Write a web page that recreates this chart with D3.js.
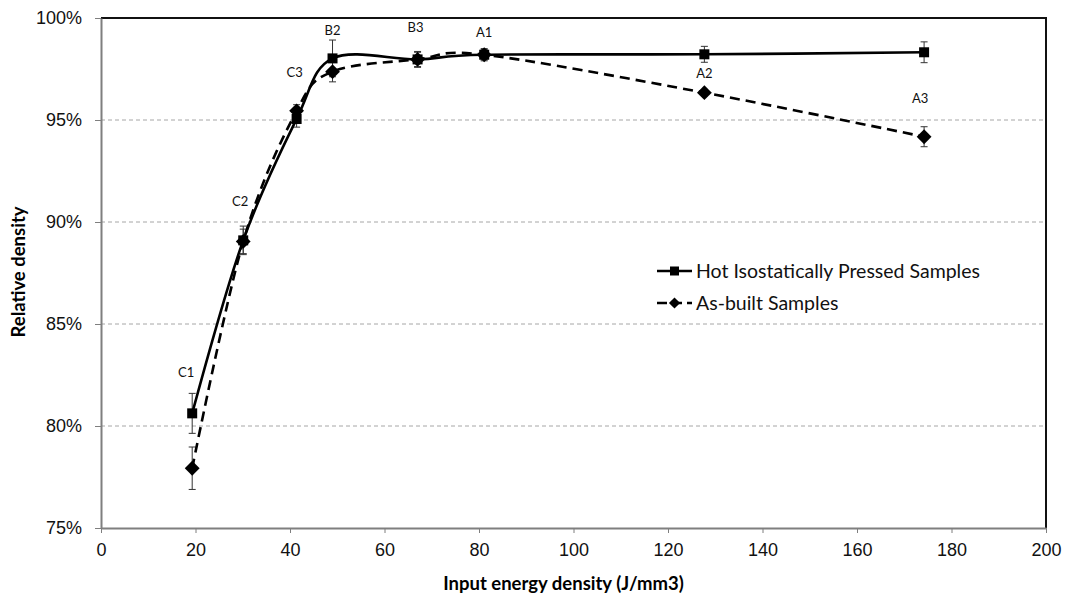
<!DOCTYPE html>
<html>
<head>
<meta charset="utf-8">
<script src="https://cdn.jsdelivr.net/npm/d3@7"></script>
<style>
  body { margin: 0; background: #fff; }
  svg { font-family: Lato, "Open Sans", sans-serif; }
</style>
</head>
<body>
<svg id="chart" width="1066" height="598"></svg>
<script>
// values
const sampleNames = ["C1", "C2", "C3", "B2", "B3", "A1", "A2", "A3"];
const energy = [19.3, 30.1, 41.4, 49.0, 67.0, 81.1, 127.7, 174.2];
const hipDensity = [80.62, 89.1, 95.05, 98.02, 97.97, 98.2, 98.22, 98.32];
const hipError = [0.98, 0.7, 0.4, 0.9, 0.39, 0.3, 0.39, 0.51];
const builtDensity = [77.93, 89.05, 95.45, 97.37, 97.97, 98.2, 96.34, 94.18];
const builtError = [1.04, 0.6, 0.3, 0.5, 0.35, 0.25, 0.15, 0.49];
const xTicks = [0, 20, 40, 60, 80, 100, 120, 140, 160, 180, 200];
const yTicks = [75, 80, 85, 90, 95, 100];
const seriesNames = ["Hot Isostatically Pressed Samples", "As-built Samples"];

var margin = {top: 18, right: 20, bottom: 70, left: 101},
    width = 1066 - margin.left - margin.right,
    height = 598 - margin.top - margin.bottom;

const svg = d3.select("#chart");
const g = svg.append("g").attr("transform", "translate(" + margin.left + "," + margin.top + ")");

const x = d3.scaleLinear().domain([0, 200]).range([0, width]);
const y = d3.scaleLinear().domain([75, 100]).range([height, 0]);

// gridlines
g.selectAll(".grid")
    .data(yTicks.filter(function(d) { return d > 75 && d < 100; }))
    .enter().append("line")
    .attr("x1", 0).attr("x2", width)
    .attr("y1", function(d) { return y(d); })
    .attr("y2", function(d) { return y(d); })
    .attr("stroke", "#a6a6a6")
    .attr("stroke-width", 1)
    .attr("stroke-dasharray", "4,3");

// plot border top/right
g.append("path")
    .attr("d", "M0,0H" + width + "V" + height)
    .attr("fill", "none")
    .attr("stroke", "#111")
    .attr("stroke-width", 2);

// axes
const xAxis = d3.axisBottom(x).tickValues(xTicks).tickSize(5).tickSizeOuter(0);
const gx = g.append("g").attr("transform", "translate(0," + height + ")").call(xAxis);
const yAxis = d3.axisLeft(y).tickValues(yTicks).tickSize(6).tickSizeOuter(0)
    .tickFormat(function(d) { return d + "%"; });
const gy = g.append("g").call(yAxis);

[gx, gy].forEach(function(a) {
    a.select(".domain").attr("stroke", "#7f7f7f").attr("stroke-width", 2);
    a.selectAll(".tick line").attr("stroke", "#7f7f7f");
    a.selectAll(".tick text").attr("fill", "#111").style("font-size", "18px");
});
gx.selectAll(".tick text").attr("y", 15).attr("dy", "0.71em");
gy.selectAll(".tick text").attr("x", -19);

// axis titles
svg.append("text")
    .attr("x", margin.left + width / 2 - 10)
    .attr("y", 590)
    .attr("text-anchor", "middle")
    .style("font-size", "18.5px").style("font-weight", "bold")
    .text("Input energy density (J/mm3)");
svg.append("text")
    .attr("transform", "translate(25," + (margin.top + height / 2 - 1) + ") rotate(-90)")
    .attr("text-anchor", "middle")
    .style("font-size", "18.5px").style("font-weight", "bold")
    .text("Relative density");

const line = d3.line()
    .x(function(d) { return x(d[0]); })
    .y(function(d) { return y(d[1]); })
    .curve(d3.curveCatmullRom.alpha(0));

const hipPts = energy.map(function(e, i) { return [e, hipDensity[i], hipError[i]]; });
const builtPts = energy.map(function(e, i) { return [e, builtDensity[i], builtError[i]]; });

function errorBars(pts) {
    const eb = g.append("g").attr("stroke", "#333").attr("stroke-width", 1);
    pts.forEach(function(d) {
        eb.append("line").attr("x1", x(d[0])).attr("x2", x(d[0]))
            .attr("y1", y(d[1] - d[2])).attr("y2", y(d[1] + d[2]));
        [d[1] - d[2], d[1] + d[2]].forEach(function(v) {
            eb.append("line").attr("x1", x(d[0]) - 3.5).attr("x2", x(d[0]) + 3.5)
                .attr("y1", y(v)).attr("y2", y(v));
        });
    });
}
errorBars(builtPts);
errorBars(hipPts);

g.append("path").datum(builtPts)
    .attr("fill", "none").attr("stroke", "#000").attr("stroke-width", 2.6)
    .attr("stroke-dasharray", "10,6")
    .attr("d", line);
g.append("path").datum(hipPts)
    .attr("fill", "none").attr("stroke", "#000").attr("stroke-width", 2.6)
    .attr("d", line);

const diamond = d3.symbol().type(d3.symbolDiamond2).size(140);
g.selectAll(".built").data(builtPts).enter().append("path")
    .attr("transform", function(d) { return "translate(" + x(d[0]) + "," + y(d[1]) + ")"; })
    .attr("d", diamond).attr("fill", "#000");
g.selectAll(".hip").data(hipPts).enter().append("rect")
    .attr("x", function(d) { return x(d[0]) - 5; })
    .attr("y", function(d) { return y(d[1]) - 5; })
    .attr("width", 10).attr("height", 10).attr("fill", "#000");

// sample labels
const labelOffset = {C1: [-6, -36], C2: [-3, -34], C3: [-2, -42], B2: [0, -23], B3: [-2, -27],
                     A1: [0, -18], A2: [0, 24], A3: [-4, 51]};
g.selectAll(".lbl").data(sampleNames).enter().append("text")
    .attr("x", function(d, i) { return x(energy[i]) + labelOffset[d][0]; })
    .attr("y", function(d, i) { return y(hipDensity[i]) + labelOffset[d][1]; })
    .attr("text-anchor", "middle")
    .style("font-size", "13px").attr("fill", "#111")
    .text(function(d) { return d; });

// legend
const lg = svg.append("g").attr("transform", "translate(657,271)");
seriesNames.forEach(function(name, i) {
    const row = lg.append("g").attr("transform", "translate(0," + (i * 32) + ")");
    row.append("line").attr("x1", 0).attr("x2", 35).attr("y1", 0).attr("y2", 0)
        .attr("stroke", "#000").attr("stroke-width", 2.6)
        .attr("stroke-dasharray", i === 0 ? null : "10,5");
    if (i === 0) {
        row.append("rect").attr("x", 13).attr("y", -4.5).attr("width", 9).attr("height", 9).attr("fill", "#000");
    } else {
        row.append("path").attr("transform", "translate(17.5,0)")
            .attr("d", d3.symbol().type(d3.symbolDiamond2).size(80)).attr("fill", "#000");
    }
    row.append("text").attr("x", 39).attr("y", 7)
        .style("font-size", "19.5px").attr("fill", "#111")
        .text(name);
});
</script>
</body>
</html>
